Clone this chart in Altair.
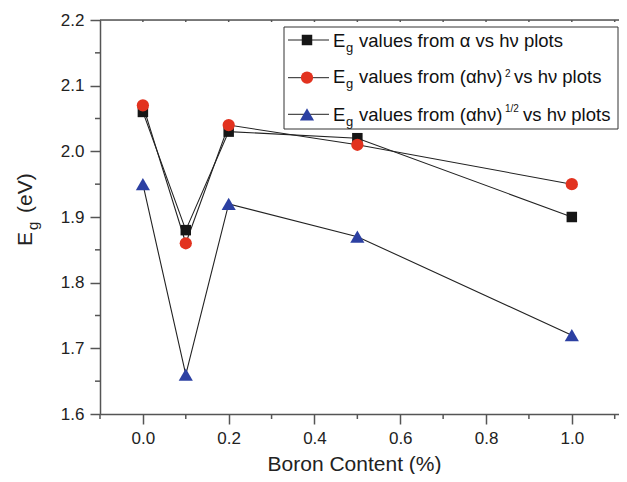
import altair as alt
import pandas as pd

# ---- data ----
boron = [0.0, 0.1, 0.2, 0.5, 1.0]
eg_alpha = [2.06, 1.88, 2.03, 2.02, 1.90]     # from alpha vs hv
eg_sq = [2.07, 1.86, 2.04, 2.01, 1.95]        # from (alpha hv)^2 vs hv
eg_half = [1.95, 1.66, 1.92, 1.87, 1.72]      # from (alpha hv)^1/2 vs hv

x_major = [0.0, 0.2, 0.4, 0.6, 0.8, 1.0]
x_minor = [-0.1, 0.1, 0.3, 0.5, 0.7, 0.9, 1.1]
x_top = [0.0, 0.1, 0.2, 0.3, 0.4, 0.5, 0.6, 0.7, 0.8, 0.9, 1.0, 1.1]
y_major = [1.6, 1.7, 1.8, 1.9, 2.0, 2.1, 2.2]
y_minor = [1.65, 1.75, 1.85, 1.95, 2.05, 2.15]

BLACK = "#161616"
RED = "#e2321f"
BLUE = "#2c40a2"
AX = "#555555"
FONT = "Liberation Sans"

W, H = 519, 394

xscale = alt.Scale(domain=[-0.1, 1.11], nice=False, zero=False)
yscale = alt.Scale(domain=[1.6, 2.2], nice=False, zero=False)

axis_x = alt.Axis(values=x_major, format=".1f", tickSize=10, tickColor=AX,
                  domainColor=AX, domainWidth=1.5, tickWidth=1.5,
                  labelFontSize=17, labelPadding=6, labelColor="#222",
                  grid=False, title="Boron Content (%)", titleFontSize=21,
                  titleFontWeight="normal", titleColor="#222",
                  titleX=254, titleY=56, titleBaseline="alphabetic",
                  titleAlign="center")
axis_y = alt.Axis(values=y_major, format=".1f", tickSize=10, tickColor=AX,
                  domainColor=AX, domainWidth=1.5, tickWidth=1.5,
                  labelFontSize=17, labelPadding=6, labelColor="#222",
                  grid=False, title=None)


def X(f):
    return alt.X(f, type="quantitative", scale=xscale, axis=axis_x)


def Y(f):
    return alt.Y(f, type="quantitative", scale=yscale, axis=axis_y)


def series(vals, shape, color, size):
    d = pd.DataFrame({"boron": boron, "eg": vals})
    base = alt.Chart(d)
    line = base.mark_line(color="#222", strokeWidth=1.1).encode(x=X("boron"), y=Y("eg"))
    pts = base.mark_point(shape=shape, filled=True, fill=color, color=color,
                          size=size, opacity=1, strokeWidth=0).encode(x=X("boron"), y=Y("eg"))
    return line, pts


one = pd.DataFrame({"k": [0]})


def txt(s, x, y, size, angle=0, color="#111"):
    kw = dict(align="left", baseline="alphabetic", fontSize=size, color=color, font=FONT)
    if angle:
        kw["angle"] = angle
    return alt.Chart(one).mark_text(**kw).encode(
        x=alt.value(x), y=alt.value(y), text=alt.value(s))


l1, p1 = series(eg_alpha, "square", BLACK, 110)
l2, p2 = series(eg_sq, "circle", RED, 150)
l3, p3 = series(eg_half, "triangle-up", BLUE, 200)

# minor ticks and frame
xminor = alt.Chart(pd.DataFrame({"v": x_minor})).mark_rule(color=AX, strokeWidth=1.5).encode(
    x=X("v"), y=alt.value(H), y2=alt.value(H + 5))
xtop = alt.Chart(pd.DataFrame({"v": x_top})).mark_rule(color=AX, strokeWidth=1.5).encode(
    x=X("v"), y=alt.value(0), y2=alt.value(2))
yminor = alt.Chart(pd.DataFrame({"v": y_minor})).mark_rule(color=AX, strokeWidth=1.5).encode(
    y=Y("v"), x=alt.value(-5), x2=alt.value(0))
topline = alt.Chart(one).mark_rule(color=AX, strokeWidth=1.5).encode(
    x=alt.value(0), x2=alt.value(W), y=alt.value(0))

# legend
box = alt.Chart(one).mark_rect(fill="white", stroke="#333", strokeWidth=1).encode(
    x=alt.value(184), x2=alt.value(518), y=alt.value(7), y2=alt.value(109))

leg = [box]
rows = [(20, 27, "square", BLACK, 110), (57.7, 63, "circle", RED, 150), (94.3, 101, "triangle-up", BLUE, 200)]
for yc, yb, shp, col, sz in rows:
    leg.append(alt.Chart(one).mark_rule(color="#222", strokeWidth=1).encode(
        x=alt.value(188), x2=alt.value(229), y=alt.value(yc)))
    leg.append(alt.Chart(one).mark_point(shape=shp, filled=True, fill=col, color=col, size=sz,
                                         opacity=1, strokeWidth=0).encode(
        x=alt.value(207), y=alt.value(yc)))
    leg.append(txt("E", 233, yb, 18.5))
    leg.append(txt("g", 246, yb + 5, 13))

leg.append(txt("values from \u03b1 vs h\u03bd plots", 259, 27, 18.5))
leg.append(txt("values from (\u03b1h\u03bd)", 259, 63, 18.5))
leg.append(txt("2", 405, 57, 10))
leg.append(txt("vs h\u03bd plots", 414, 63, 18.5))
leg.append(txt("values from (\u03b1h\u03bd)", 259, 101, 18.5))
leg.append(txt("1/2", 405, 92, 10))
leg.append(txt("vs h\u03bd plots", 423, 101, 18.5))

# y title E_g (eV)
ytitle = [
    txt("E", -68, 226, 21, angle=270, color="#222"),
    txt("g", -62, 210, 15, angle=270, color="#222"),
    txt("(eV)", -68, 193, 21, angle=270, color="#222"),
]

chart = alt.layer(
    xminor, xtop, yminor, topline,
    l1, l2, l3, p1, p2, p3,
    *leg, *ytitle
).properties(
    width=W, height=H,
    autosize=alt.AutoSizeParams(type="none"),
    padding={"left": 92, "top": 12, "right": 0, "bottom": 60},
).configure_view(
    stroke=None
).configure(
    font=FONT
)

chart.save("out.html", embed_options={"renderer": "svg", "actions": False})
